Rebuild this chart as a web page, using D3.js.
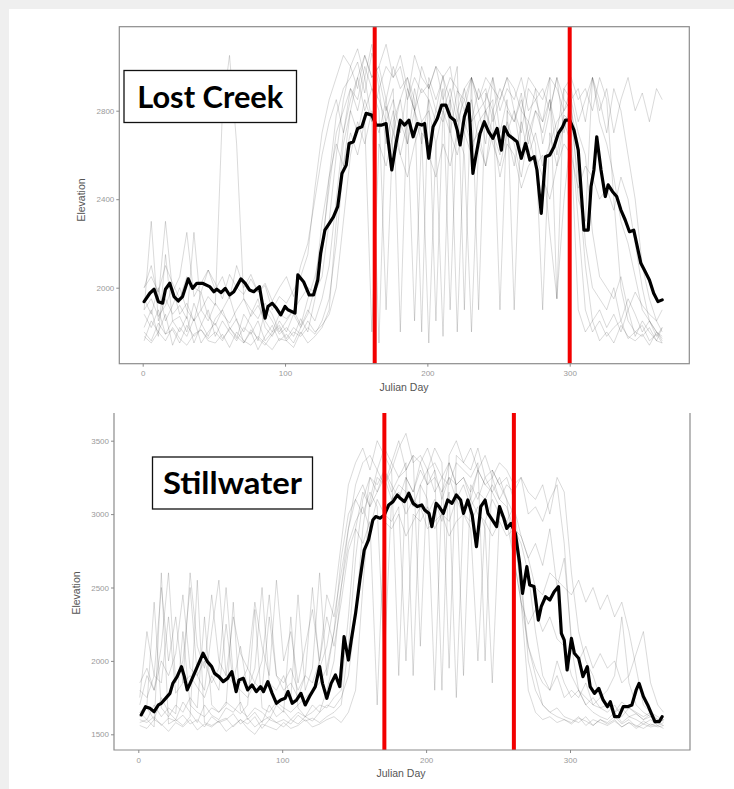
<!DOCTYPE html>
<html>
<head>
<meta charset="utf-8">
<script src="https://cdn.jsdelivr.net/npm/d3@7"></script>
<style>
  html, body { margin: 0; padding: 0; background: #ffffff; }
  svg { display: block; }
  .tick text { font-family: "Liberation Sans", Arial, sans-serif; font-size: 8px; fill: #9a9a9a; }
  .tick line { stroke: #8a8a8a; }
</style>
</head>
<body>
<svg id="chart" width="734" height="789"></svg>
<script>
// ---- sampling days for the individual animal tracks ----
const trackDays = [1,6,11,16,21,26,31,36,41,46,51,56,61,66,71,76,81,86,91,96,101,106,111,116,121,
  126,131,136,141,146,151,156,161,166,171,176,181,186,191,196,201,206,211,216,221,226,231,236,241,246,
  251,256,261,266,271,276,281,286,291,296,301,306,311,316,321,326,331,336,341,346,351,356,361,365];

// ---- Lost Creek: individual elk elevation tracks (m) ----
const lcTrack1 = [1880,1820,1900,1790,1850, 1870,1800,1930,1840,1780, 1860,1900,1820,1770,1880, 1830,1760,1900,1850,1790,
  1820,1780,1860,1800,1950, 2150,2500,2780,2900,2950, 3020,2880,3060,2950,2800, 2900,1800,2850,2950,2880,
  2920,2800,2960,2700,2890, 2850,2950,1900,2880,2800, 2900,2820,2750,2880,2650, 2800,2700,2850,2600,2780,
  2750,2500,2100,1850,1900, 1820,1880,1800,1900,1780, 1850,1800,1760,1820];
const lcTrack2 = [2000,2100,1950,2300,1980, 2050,2250,1960,2020,2080, 1990,2050,1950,2100,2000, 2060,1980,2020,1940,2000,
  2050,1960,2100,2200,2400, 2600,2750,2850,2700,2900, 2800,2950,2750,1750,2820, 2700,2850,2650,2900,2750,
  2800,2650,1780,2850,2700, 2900,2750,2800,2650,2950, 2700,2850,1900,2800,2750, 2900,2650,2800,2950,2700,
  2850,2900,2750,2950,2800, 2900,2700,2850,2950,2800, 2880,2750,2900,2850];
const lcTrack3 = [1780,1750,1800,1760,1820, 1770,1740,1790,1810,1760, 1750,1790,1730,1800,1760, 1740,1780,1750,1720,1770,
  1760,1730,1800,1750,1780, 1820,1900,2300,2650,2800, 2700,2850,2750,2900,2650, 2800,2600,2750,1850,2700,
  2650,2800,2750,2850,1800, 2700,2600,2750,2800,2650, 2550,2700,2800,2600,2750, 2650,1900,2700,2550,2750,
  2650,1900,1800,1850,1760, 1800,1750,1830,1780,1760, 1790,1740,1800,1760];
const lcTrack4 = [1900,1950,1870,1920,2000, 1880,1930,1850,1900,1960, 1920,2800,3050,2650,1950, 1900,1860,1930,1880,1800,
  1850,1900,1950,2000,1980, 2050,2300,2600,2850,3000, 3080,2950,3100,2900,3000, 2950,3050,2900,2800,3000,
  2900,3000,2850,2950,2900, 2800,2950,2850,2900,2750, 2850,2950,2800,2700,2900, 2850,2750,2950,2900,2800,
  2900,2750,2850,2950,2850, 2700,2900,2800,2600,2400, 2100,1950,1850,1800];
const lcTrack5 = [1950,1880,2000,1850,1920, 2000,1900,1850,1980,1870, 1830,1900,1960,1850,1800, 1880,1950,1820,1780,1850,
  1800,1880,1820,1900,1850, 1950,2100,2400,2700,2850, 2950,2800,2900,2850,2750, 2850,2700,2900,2800,2650,
  2850,2750,2900,1900,2800, 2700,2850,2650,2800,2700, 2600,2750,2650,2500,2700, 2550,2600,2250,1950,2400,
  2700,2300,1900,1800,1850, 1780,1820,1850,1770,1800, 1830,1760,1790,1750];
const lcTrack6 = [1820,1900,1780,2150,1850, 1800,1870,1750,1830,1900, 1780,1850,1800,1760,1820, 1790,1850,1760,1800,1830,
  1770,1820,1790,1850,1800, 1830,1880,2000,2300,2600, 2750,2650,2800,2700,2850, 2600,2750,2650,2800,2700,
  1750,2650,2800,2700,2600, 2750,2650,2700,2550,2800, 2650,2700,2550,2750,2600, 2700,2550,2650,2750,2800,
  2850,2400,2300,2950,2750, 2650,2500,2300,2200,2050, 1900,1850,1800,1770];
const lcTrack7 = [2000,2050,1980,2100,2020, 1950,2050,2000,1980,2080, 2020,1950,2060,2000,1970, 2040,1980,2010,1900,1960,
  1930,1990,2050,2150,2450, 2700,2850,2950,3050,3000, 2900,3050,2950,3000,2850, 3000,2900,2950,2850,1800,
  2950,2850,2950,3000,2800, 2900,2950,2800,2850,2950, 2800,2900,2850,2950,2800, 2850,2900,2800,2950,2850,
  2800,2650,2200,2000,1950, 1900,2000,1850,1950,1880, 1800,1850,1780,1820];
const lcTrack8 = [1760,1850,1800,1880,1740, 1820,1780,1860,1750,1800, 1840,1770,1810,1860,1750, 1800,1720,1780,1830,1760,
  1790,1750,1820,1880,2000, 2300,2500,2650,2550,2700, 2600,2750,1800,2650,2550, 2700,2600,2500,2650,2750,
  2600,2500,2650,2550,2700, 2600,1800,2650,2550,2700, 2500,2650,2600,2450,2550, 2600,2500,2400,2550,2650,
  2600,2450,2550,2500,2400, 2450,2350,2500,2400,2200, 2000,1850,1800,1780];
const lcTrack9 = [1900,2300,1850,1950,1880, 1920,1860,2250,1900,1850, 1930,1880,1840,1900,1950, 1870,1920,1850,1800,1880,
  1860,1900,1830,1950,2050, 2200,2450,2700,2800,2900, 2850,3000,2900,2800,1900, 2750,2850,2950,2800,2900,
  2850,1850,2800,2900,2750, 2850,2750,2900,2800,2850, 1900,2800,2750,2850,2700, 2800,2750,2850,2700,2900,
  2850,2700,2600,2250,2050, 2000,1950,2050,1900,1980, 1920,1880,1850,1900];
const lcTrack10 = [1800,1760,1840,1790,1810, 1750,1830,1780,1810,1770, 1800,1760,1820,1780,1750, 1810,1770,1740,1790,1820,
  1760,1800,1780,1820,1790, 1850,1950,2200,2550,2800, 2950,3050,2950,3000,3100, 2950,3000,2850,3050,2950,
  2900,3000,2950,2850,3000, 1900,2950,2850,2950,2900, 2850,2950,2900,2800,2950, 2900,2850,2950,1950,2900,
  2950,2850,2900,2800,2950, 2850,2400,2000,1850,1800, 1780,1820,1760,1750];

// ---- Lost Creek: daily mean elevation ----
const lcMeanDays = [1,5,8,11,14,16,19,22,25,28,32,35,38,42,47,50,52,55,58,61,64,66,69,72,75,78,82,84,86,88,91,94,97,100,
  102,107,109,113,117,120,123,125,128,131,134,137,140,143,145,148,151,154,157,161,164,168,171,175,178,181,184,187,190,
  193,196,198,201,204,207,210,213,216,219,221,223,226,229,230,232,234,237,240,243,246,249,252,254,257,260,263,266,269,
  272,275,277,280,283,286,289,292,295,297,300,303,306,308,310,313,315,317,319,322,325,327,330,333,336,339,342,345,347,
  350,353,356,359,362,365];
const lcMeanElev = [1937,1975,1993,1937,1930,1993,2020,1960,1940,1960,2040,1997,2020,2020,2005,1982,1993,1978,1997,1967,
  1982,2005,2040,2020,1990,1982,2005,1930,1862,1915,1930,1907,1877,1915,1900,1885,2058,2027,1967,1967,2035,2155,2260,
  2290,2320,2366,2516,2554,2652,2660,2720,2727,2788,2780,2735,2735,2742,2532,2652,2757,2735,2757,2682,2742,2735,2742,
  2585,2727,2765,2825,2825,2773,2757,2712,2645,2773,2833,2742,2517,2592,2697,2750,2705,2675,2720,2622,2727,2690,2675,
  2660,2585,2652,2577,2592,2532,2336,2592,2600,2637,2697,2727,2757,2757,2712,2622,2442,2260,2260,2457,2532,2682,2532,
  2412,2465,2435,2412,2351,2306,2253,2260,2200,2110,2073,2035,1975,1937,1945];

// ---- Stillwater: individual elk elevation tracks (m) ----
const swTrack1 = [1600,1580,1620,1560,1610, 1590,1630,1570,1600,1550, 1620,1580,1600,1640,1570, 1610,1550,1590,1620,1580,
  1600,1570,1630,1590,1610, 1580,1620,1650,1700,2100, 2700,3100,3250,3200,3300, 3150,3250,3350,1900,3200,
  3300,3150,3250,3350,3200, 3250,3100,3300,3200,3150, 3250,3100,3000,2400,1800, 1650,1600,1620,1580,1600,
  1570,1610,1590,1560,1600, 1580,1620,1570,1600,1550, 1590,1560,1580,1560];
const swTrack2 = [1750,2200,1900,2500,2000, 2300,1850,2600,2100,1950, 2450,2000,1900,2300,2050, 1950,2400,2100,1900,2550,
  2000,2200,1850,2100,2350, 2000,2450,2300,2600,2900, 3200,3350,3400,3300,3450, 3350,3500,3300,3400,3350,
  3450,3300,1800,3400,3500, 3350,3450,3300,3400,3250, 3350,3300,3200,3250,3150, 3100,3200,3000,3250,3150,
  2600,2200,2000,1900,1750, 1700,1650,1680,1620,1640, 1600,1620,1580,1600];
const swTrack3 = [1650,1700,2400,1680,1620, 1700,1650,1750,1680,2300, 1700,1650,1720,1680,1640, 1700,2350,1680,1650,1720,
  1680,1650,1700,1750,1800, 1850,1950,2200,2700,3000, 3100,3000,3150,3050,2000, 3100,3150,3000,3100,3050,
  3000,3100,2950,3150,1750, 3050,3100,3000,2950,3100, 3000,2950,3050,2850,2700, 2500,2450,2600,2550,2500,
  2450,2550,2400,2500,2350, 2450,2300,2400,2200,1950, 1700,1650,1620,1600];
const swTrack4 = [1620,1680,1600,1750,1650, 1600,1720,1650,1580,1700, 1630,1600,1680,1650,1720, 1600,1650,1580,1700,1620,
  1660,1600,1650,1620,1700, 1650,1700,1680,1750,1900, 2300,2900,3250,3150,3300, 3200,3100,3250,3150,3350,
  3200,3300,3100,3250,3200, 1900,3200,3100,3250,3150, 3050,2950,2700,2400,2250, 2350,2200,2300,2150,2100,
  1900,1800,1700,1650,1620, 1600,1650,1580,1620,1600, 1570,1600,1560,1580];
const swTrack5 = [1700,1900,1800,2100,2600, 1850,2000,2500,1900,1800, 2200,2550,1900,1850,2100, 1800,1950,2500,1850,1800,
  1900,1750,2450,1800,1950, 2600,1900,2200,2500,2800, 2950,3050,2900,3100,3000, 2950,3050,2000,3000,2950,
  3050,2900,3000,2950,3100, 3000,2950,3050,2900,1850, 3000,2950,2900,2850,2700, 2800,2650,2900,2500,2700,
  2150,2000,2100,1950,2050, 1950,2000,1850,1900,2050, 2200,1850,1700,1650];
const swTrack6 = [1560,1540,1600,1570,1520, 1580,1550,1600,1530,1570, 1550,1590,1520,1560,1600, 1540,1500,1570,1550,1530,
  1580,1540,1560,1600,1550, 1570,1600,1620,1580,1650, 1800,2500,3100,3300,3200, 3350,3250,3300,3400,2100,
  3300,3350,3250,3200,3350, 3300,3250,3350,2000,3300, 3200,3250,3100,2600,2000, 1800,1700,1650,1680,1620,
  1600,1580,1620,1560,1600, 1570,1600,1550,1580,1560, 1540,1570,1550,1560];
const swTrack7 = [1800,1750,1900,1850,2300, 1780,1850,1900,1820,1750, 1900,1800,2250,1850,1800, 1750,1850,1800,2300,1900,
  1800,1850,1750,1900,1850, 2000,2300,2100,2400,2750, 2900,2800,2950,1700,2950, 2900,3000,2850,2950,3050,
  2900,2950,3000,2850,2950, 3000,2900,2000,2950,2850, 2950,2850,2900,2800,2600, 2200,1900,1800,2000,1850,
  1750,1800,1700,1750,1680, 1700,1650,1720,1680,1650, 1620,1650,1600,1620];
const swTrack8 = [1650,1600,1700,1620,1680, 1640,2200,1700,1650,1620, 1680,1650,1700,2400,1660, 1620,1680,1650,1600,1700,
  1650,2300,1680,1620,1650, 1700,1680,1750,1800,2300, 2900,3150,3050,3250,3200, 3300,1900,3250,3150,3300,
  3200,3250,3150,3350,3200, 3250,3150,3300,3200,3250, 3100,3200,3150,3250,3000, 3050,2950,3100,3200,2800,
  2100,1800,1750,1700,1680, 1650,1700,1620,1680,1640, 1600,1640,1580,1600];
const swTrack9 = [1580,1600,1550,2600,1570, 1600,1560,1620,2550,1580, 1560,1590,1610,1550,1600, 1570,1620,1540,1600,1580,
  1550,1600,1570,1620,1590, 1650,1800,2000,2500,2900, 3100,3200,3050,3150,3250, 3100,3200,3150,3050,3200,
  3100,1800,3150,3250,3100, 3200,3050,3150,3100,3200, 3100,3050,2900,2500,2100, 1900,1700,1650,1620,1600,
  1580,1620,1560,1600,1580, 1560,1590,1550,1580,1540, 1570,1550,1560,1540];
const swTrack10 = [1850,1950,1800,2000,1900, 2050,2450,1950,1900,2000, 1850,1950,2500,1900,1850, 1950,1850,2000,2450,1900,
  1850,1950,1800,1900,2500, 1950,2100,2400,2800,3200, 3350,3450,3300,3500,3400, 3300,3450,3550,3350,3400,
  3300,3450,3350,1950,3400, 3350,3300,3450,3250,3300, 3200,3100,2700,2400,2100, 1950,1850,1800,1900,1750,
  1800,1750,1850,1700,1750, 1800,1900,2300,1850,1700, 1650,1620,1600,1590];

// ---- Stillwater: daily mean elevation ----
const swMeanDays = [2,5,8,11,14,16,19,22,24,27,30,32,34,36,39,42,45,48,51,53,56,59,62,65,68,70,73,76,79,82,85,87,90,93,
  96,99,102,104,107,110,113,116,119,123,126,128,131,134,137,140,143,146,148,151,154,157,160,163,165,168,171,174,177,
  180,182,185,188,191,194,197,199,202,204,207,209,212,215,218,221,224,226,229,232,235,238,241,243,246,249,251,254,256,
  259,262,265,267,270,272,275,278,280,283,286,289,292,294,296,298,301,303,306,309,312,314,317,320,323,326,328,331,334,
  337,340,343,346,348,351,354,356,359,362,364];
const swMeanElev = [1632,1688,1677,1654,1700,1711,1745,1779,1847,1893,1961,1893,1802,1847,1915,1983,2052,1995,1961,1915,
  1893,1859,1881,1927,1791,1870,1881,1802,1836,1791,1825,1791,1859,1779,1711,1734,1745,1791,1711,1734,1779,1700,1757,
  1825,1961,1847,1745,1847,1904,1825,2165,2006,2142,2324,2551,2755,2824,2960,2983,2972,2994,3062,3085,3130,3108,3085,
  3142,3073,3051,3062,3028,3005,2915,3073,3051,3005,3096,3073,3130,3096,3005,3096,2994,2778,3051,3096,3005,2960,2915,
  3051,2972,2903,2937,2869,2665,2460,2642,2517,2506,2278,2369,2437,2415,2471,2506,2188,2142,1938,2153,2052,2018,1893,
  1961,1825,1779,1813,1734,1688,1722,1620,1620,1688,1688,1700,1802,1847,1757,1700,1654,1586,1586,1620];

// ---- shared axis settings ----
const xTicks = [0, 100, 200, 300];
const lcYTicks = [2000, 2400, 2800];
const swYTicks = [1500, 2000, 2500, 3000, 3500];
const lcTransitions = [163, 300];
const swTransitions = [171, 261];

const svg = d3.select("#chart");

// light grey page edge along the top and left
svg.append("rect").attr("x", 0).attr("y", 0).attr("width", 734).attr("height", 789).attr("fill", "#efefef");
svg.append("rect").attr("x", 9).attr("y", 9).attr("width", 725).attr("height", 780).attr("fill", "#ffffff");

function drawPanel(cfg) {
  const g = svg.append("g");
  const x = d3.scaleLinear().domain([0, 300]).range(cfg.xRange);
  const y = d3.scaleLinear().domain(cfg.yDomain).range(cfg.yRange);

  const clipId = "clip-" + cfg.id;
  g.append("clipPath").attr("id", clipId)
    .append("rect")
    .attr("x", cfg.left).attr("y", cfg.top)
    .attr("width", cfg.right - cfg.left).attr("height", cfg.bottom - cfg.top);

  const plot = g.append("g").attr("clip-path", `url(#${clipId})`);

  const line = d3.line().x(d => x(d[0])).y(d => y(d[1]));

  // individual tracks
  plot.selectAll("path.track")
    .data(cfg.tracks)
    .join("path")
    .attr("class", "track")
    .attr("d", vals => line(vals.map((v, i) => [trackDays[i], v])))
    .attr("fill", "none")
    .attr("stroke", "#2a2a2a")
    .attr("stroke-opacity", 0.22)
    .attr("stroke-width", 0.8)
    .attr("stroke-linejoin", "round");

  // mean track
  plot.append("path")
    .attr("d", line(cfg.meanDays.map((d, i) => [d, cfg.meanElev[i]])))
    .attr("fill", "none")
    .attr("stroke", "#000")
    .attr("stroke-width", 3.2)
    .attr("stroke-linejoin", "round")
    .attr("stroke-linecap", "round");

  // migration dates
  g.selectAll("line.transition")
    .data(cfg.transitions)
    .join("line")
    .attr("class", "transition")
    .attr("x1", d => x(d)).attr("x2", d => x(d))
    .attr("y1", cfg.top).attr("y2", cfg.bottom)
    .attr("stroke", "#f20000")
    .attr("stroke-width", 4);

  // frame
  const frame = g.append("g").attr("stroke", "#8c8c8c").attr("stroke-width", 1.2).attr("fill", "none");
  if (cfg.fullFrame) {
    frame.append("rect").attr("x", cfg.left).attr("y", cfg.top)
      .attr("width", cfg.right - cfg.left).attr("height", cfg.bottom - cfg.top);
  } else {
    frame.append("path")
      .attr("d", `M${cfg.left},${cfg.top}V${cfg.bottom}H${cfg.right}V${cfg.top}`);
  }

  // axes
  const xAxis = g.append("g")
    .attr("transform", `translate(0,${cfg.bottom})`)
    .call(d3.axisBottom(x).tickValues(xTicks).tickFormat(d3.format("d")).tickSize(3).tickPadding(4));
  xAxis.select(".domain").remove();

  const yAxis = g.append("g")
    .attr("transform", `translate(${cfg.left},0)`)
    .call(d3.axisLeft(y).tickValues(cfg.yTicks).tickFormat(d3.format("d")).tickSize(3).tickPadding(2));
  yAxis.select(".domain").remove();

  // axis titles
  g.append("text")
    .attr("x", cfg.xTitle[0]).attr("y", cfg.xTitle[1])
    .attr("text-anchor", "middle")
    .attr("font-family", "Liberation Sans, Arial, sans-serif")
    .attr("font-size", 10.5).attr("fill", "#555")
    .text("Julian Day");

  g.append("text")
    .attr("transform", `translate(${cfg.yTitle[0]},${cfg.yTitle[1]}) rotate(-90)`)
    .attr("text-anchor", "middle")
    .attr("font-family", "Liberation Sans, Arial, sans-serif")
    .attr("font-size", 10.5).attr("fill", "#555")
    .text("Elevation");

  // study-area label
  const b = cfg.labelBox;
  g.append("rect")
    .attr("x", b[0]).attr("y", b[1]).attr("width", b[2]).attr("height", b[3])
    .attr("fill", "#fff").attr("stroke", "#111").attr("stroke-width", 1.3);
  g.append("text")
    .attr("x", b[0] + b[2] / 2).attr("y", b[1] + b[3] / 2 + 11)
    .attr("text-anchor", "middle")
    .attr("font-family", "Lato, 'Open Sans', sans-serif")
    .attr("font-weight", 700)
    .attr("font-size", 30)
    .attr("fill", "#000")
    .attr("textLength", cfg.labelWidth)
    .attr("lengthAdjust", "spacingAndGlyphs")
    .text(cfg.label);
}

drawPanel({
  id: "lost-creek",
  label: "Lost Creek",
  labelBox: [124, 70.5, 172.5, 52],
  labelWidth: 146,
  left: 119.3, right: 689.3, top: 26.7, bottom: 363.7,
  fullFrame: true,
  xRange: [142.7, 569.7],
  yDomain: [2000, 2800], yRange: [287.7, 110.7],
  yTicks: lcYTicks,
  tracks: [lcTrack1, lcTrack2, lcTrack3, lcTrack4, lcTrack5, lcTrack6, lcTrack7, lcTrack8, lcTrack9, lcTrack10],
  meanDays: lcMeanDays, meanElev: lcMeanElev,
  transitions: lcTransitions,
  xTitle: [404, 391], yTitle: [85, 200]
});

drawPanel({
  id: "stillwater",
  label: "Stillwater",
  labelBox: [152.5, 457, 160, 52],
  labelWidth: 139,
  left: 114, right: 690, top: 413, bottom: 750,
  fullFrame: false,
  xRange: [138.3, 570],
  yDomain: [1500, 3500], yRange: [734.3, 440.7],
  yTicks: swYTicks,
  tracks: [swTrack1, swTrack2, swTrack3, swTrack4, swTrack5, swTrack6, swTrack7, swTrack8, swTrack9, swTrack10],
  meanDays: swMeanDays, meanElev: swMeanElev,
  transitions: swTransitions,
  xTitle: [401, 777], yTitle: [80, 593]
});
</script>
</body>
</html>
